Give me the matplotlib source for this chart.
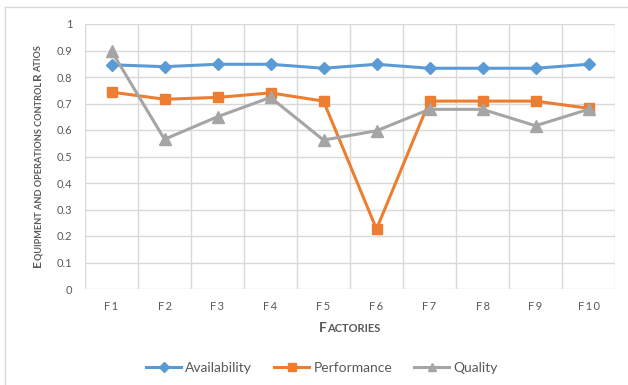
import matplotlib
matplotlib.use("Agg")
import matplotlib.pyplot as plt
from matplotlib.lines import Line2D
import numpy as np

# Factory-level equipment and operations control ratios
factories = ["F1", "F2", "F3", "F4", "F5", "F6", "F7", "F8", "F9", "F10"]
availability = [0.846, 0.839, 0.848, 0.848, 0.833, 0.848, 0.833, 0.833, 0.833, 0.848]
performance = [0.743, 0.716, 0.723, 0.740, 0.709, 0.226, 0.709, 0.709, 0.709, 0.682]
quality = [0.898, 0.565, 0.650, 0.723, 0.562, 0.597, 0.678, 0.678, 0.616, 0.678]
y_ticks = [0, 0.1, 0.2, 0.3, 0.4, 0.5, 0.6, 0.7, 0.8, 0.9, 1]
y_tick_labels = ["0", "0.1", "0.2", "0.3", "0.4", "0.5", "0.6", "0.7", "0.8", "0.9", "1"]

plt.rcParams["font.family"] = ["Lato", "DejaVu Sans"]
TEXT = "#595959"
GRID = "#D9D9D9"

W, H = 628, 385
fig = plt.figure(figsize=(W / 100, H / 100), dpi=100)
ax = fig.add_axes([85 / W, 1 - 289 / H, 530 / W, 265 / H])

x = np.arange(len(factories))
ax.plot(x, availability, color="#5B9BD5", lw=2.2, marker="D", ms=6.5,
        label="Availability", zorder=3)
ax.plot(x, performance, color="#ED7D31", lw=2.2, marker="s", ms=6.5,
        label="Performance", zorder=3)
ax.plot(x, quality, color="#A5A5A5", lw=2.2, marker="^", ms=8,
        label="Quality", zorder=3)

ax.set_xlim(-0.5, len(factories) - 0.5)
ax.set_ylim(0, 1)
ax.set_yticks(y_ticks)
ax.set_yticklabels(y_tick_labels)
ax.set_xticks(x)
ax.set_xticklabels(["\u2009".join(f) for f in factories])

# category-boundary vertical grid and value grid
for b in np.arange(-0.5, len(factories), 1.0):
    ax.axvline(b, color=GRID, lw=1.0, zorder=1)
for t in y_ticks:
    ax.axhline(t, color=GRID, lw=1.0, zorder=1)
for s in ax.spines.values():
    s.set_visible(False)
ax.tick_params(length=0, labelsize=8, colors=TEXT)
ax.tick_params(axis="x", pad=9)
ax.tick_params(axis="y", pad=9)


def small_caps(fig, cx, cy, pieces, rotation=0):
    """Place a small-caps label centred at figure pixel (cx, cy)."""
    r = fig.canvas.get_renderer()
    texts, widths = [], []
    for s, size in pieces:
        t = fig.text(0, 0, s, fontsize=size, fontweight="bold", color=TEXT,
                     ha="left", va="baseline", rotation=0,
                     rotation_mode="anchor", transform=None)
        widths.append(t.get_window_extent(r).width)
        texts.append(t)
    total = sum(widths)
    pos = -total / 2
    big = max(size for _, size in pieces)
    off = big * 100 / 72 * 0.35
    for t, w in zip(texts, widths):
        if rotation == 90:
            t.set_rotation(90)
            t.set_position((cx + off, cy + pos))
        else:
            t.set_position((cx + pos, cy - off))
        pos += w


small_caps(fig, 350, H - 327,
           [("F", 10), ("ACTORIES", 8)])
small_caps(fig, 37, H - 156,
           [("E", 8.5), ("QUIPMENT AND OPERATIONS CONTROL ", 6.6),
            ("R", 8.5), ("ATIOS", 6.6)], rotation=90)

fig.legend(loc="center", bbox_to_anchor=(322 / W, 1 - 368 / H), ncol=3,
           frameon=False, fontsize=10, labelcolor=TEXT, handlelength=2.5,
           columnspacing=1.6, handletextpad=0.3, markerscale=0.8)

# outer chart frame (left and top edges)
fig.add_artist(Line2D([5 / W, 5 / W], [0, 1 - 7 / H], color=GRID, lw=1.0))
fig.add_artist(Line2D([5 / W, 1], [1 - 7 / H, 1 - 7 / H], color=GRID, lw=1.0))

fig.savefig("out.png", dpi=100)
